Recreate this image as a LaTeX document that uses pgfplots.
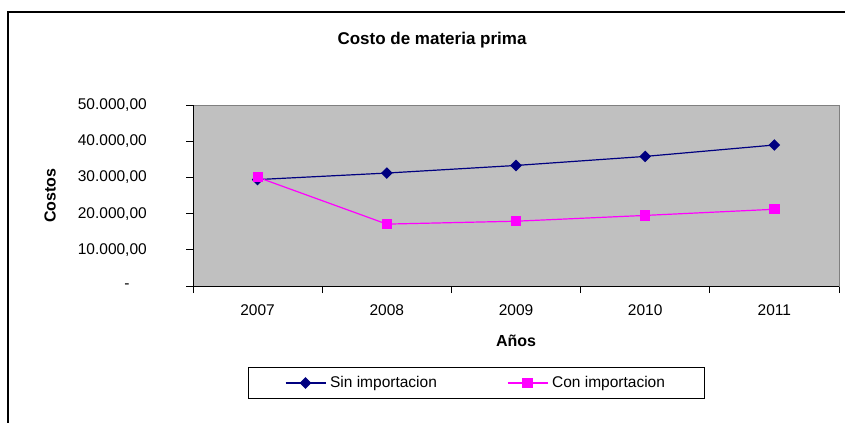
\documentclass[border=0pt]{standalone}
\usepackage{pgfplots}
\pgfplotsset{compat=1.18}
\usepackage{fontspec}
\setmainfont{Liberation Sans}
\definecolor{navyx}{HTML}{000080}
\definecolor{magx}{HTML}{FF00FF}
\definecolor{plotgray}{HTML}{C0C0C0}
\definecolor{edgegray}{HTML}{808080}
\begin{document}
\begin{tikzpicture}
\useasboundingbox (0,0) rectangle (845pt,-423pt);
\draw[line width=1.3pt] (845pt,-12pt) -- (8pt,-12pt) -- (8pt,-423pt);
\begin{axis}[
  at={(193pt,-286pt)}, anchor=south west,
  scale only axis, width=646pt, height=181pt,
  xmin=-0.5, xmax=4.5, ymin=0, ymax=50000,
  scaled y ticks=false,
  axis background/.style={fill=plotgray},
  axis line style={draw=edgegray, line width=0.8pt},
  tick align=outside,
  xtick pos=left, ytick pos=left,
  major tick length=7pt,
  tick style={black, line width=0.8pt},
  xtick={-0.5,0.5,1.5,2.5,3.5,4.5},
  xticklabels={},
  extra x ticks={0,1,2,3,4},
  extra x tick labels={2007,2008,2009,2010,2011},
  extra x tick style={major tick length=0pt, xticklabel style={yshift=-18pt}},
  ytick={0,10000,20000,30000,40000,50000},
  yticklabels={{-\hphantom{00}},{10.000,00},{20.000,00},{30.000,00},{40.000,00},{50.000,00}},
  yticklabel style={anchor=east, inner sep=0pt, xshift=-39pt},
  xticklabel style={anchor=north, inner sep=0pt},
  tick label style={font=\fontsize{15.5}{18}\selectfont},
  /pgf/number format/assume math mode=true,
  every axis title shift=0pt,
  title={Costo de materia prima},
  title style={at={(axis description cs:0.370,1.36)}, anchor=center, font=\bfseries\fontsize{17}{20}\selectfont},
  xlabel={Años},
  xlabel style={at={(axis description cs:0.5,-0.304)}, anchor=center, font=\bfseries\fontsize{16}{19}\selectfont},
  ylabel={Costos},
  ylabel style={at={(axis description cs:-0.221,0.5)}, anchor=center, rotate=0, font=\bfseries\fontsize{16}{19}\selectfont},
  legend columns=2,
  legend style={at={(axis description cs:0.438,-0.536)}, anchor=center,
    draw=black, line width=0.8pt, fill=white,
    font=\fontsize{15.5}{18}\selectfont,
    inner xsep=37pt, inner ysep=7pt,
    /tikz/every even column/.append style={column sep=68pt},
    /tikz/every odd column/.append style={column sep=2pt}},
  legend image code/.code={\draw[mark repeat=2,mark phase=2] plot coordinates {(0pt,0pt) (20pt,0pt) (40pt,0pt)};},
  clip=false,
]
\addplot[navyx, line width=1.2pt, mark=square*, mark size=3.5pt, mark options={rotate=45, solid, fill=navyx}]
  coordinates {(0,29400) (1,31200) (2,33300) (3,35800) (4,38950)};
\addlegendentry{Sin importacion}
\addplot[magx, line width=1.2pt, mark=square*, mark size=4.5pt, mark options={solid, fill=magx}]
  coordinates {(0,30050) (1,17100) (2,17900) (3,19500) (4,21200)};
\addlegendentry{Con importacion}
\draw[black, line width=0.9pt] (rel axis cs:0,1) -- (rel axis cs:0,0) -- (rel axis cs:1,0);
\end{axis}
\end{tikzpicture}
\end{document}
